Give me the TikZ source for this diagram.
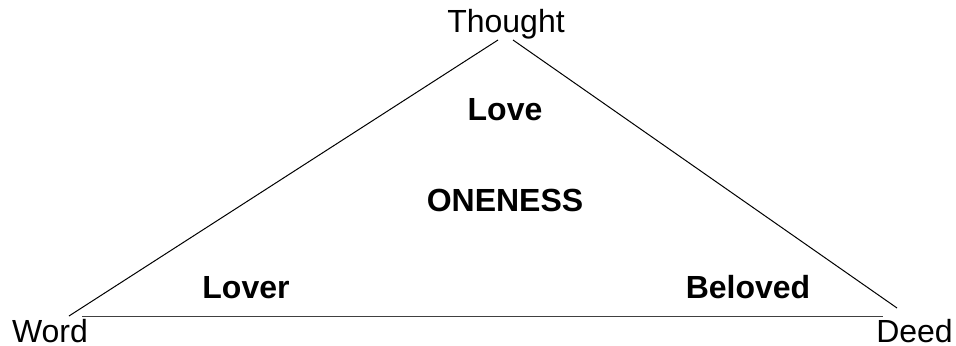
\documentclass[tikz,border=0pt]{standalone}
\usepackage{fontspec}
\setmainfont{Liberation Sans}
\begin{document}
\begin{tikzpicture}[x=0.75pt,y=-0.75pt,
  lbl/.style={inner sep=0pt,anchor=base,font=\fontsize{24}{28}\selectfont},
  blbl/.style={lbl,font=\fontsize{24}{28}\selectfont\bfseries},
  side/.style={draw=black,line width=0.75pt},
  basel/.style={draw=black!75,line width=1.2pt}]
\useasboundingbox (0,0) rectangle (956,346);
\node[lbl] (thought) at (506,33) {Thought};
\node[lbl,text depth=0pt] (word) at (50,342) {Word};
\node[lbl,text depth=0pt] (deed) at (914.5,342) {Deed};
\node[blbl] (love) at (505,120) {Love};
\node[blbl] (oneness) at (505,211) {ONENESS};
\node[blbl] (lover) at (246,298) {Lover};
\node[blbl] (beloved) at (748,298) {Beloved};
\coordinate (apexL) at (498,40);
\coordinate (apexR) at (513,40);
\coordinate (wl) at (69,316);
\coordinate (dr) at (897,308);
\coordinate (bl) at (82,316.5);
\coordinate (br) at (883,316.5);
\draw[side] (apexL) -- (wl);
\draw[side] (apexR) -- (dr);
\draw[basel] (bl) -- (br);
\end{tikzpicture}
\end{document}
